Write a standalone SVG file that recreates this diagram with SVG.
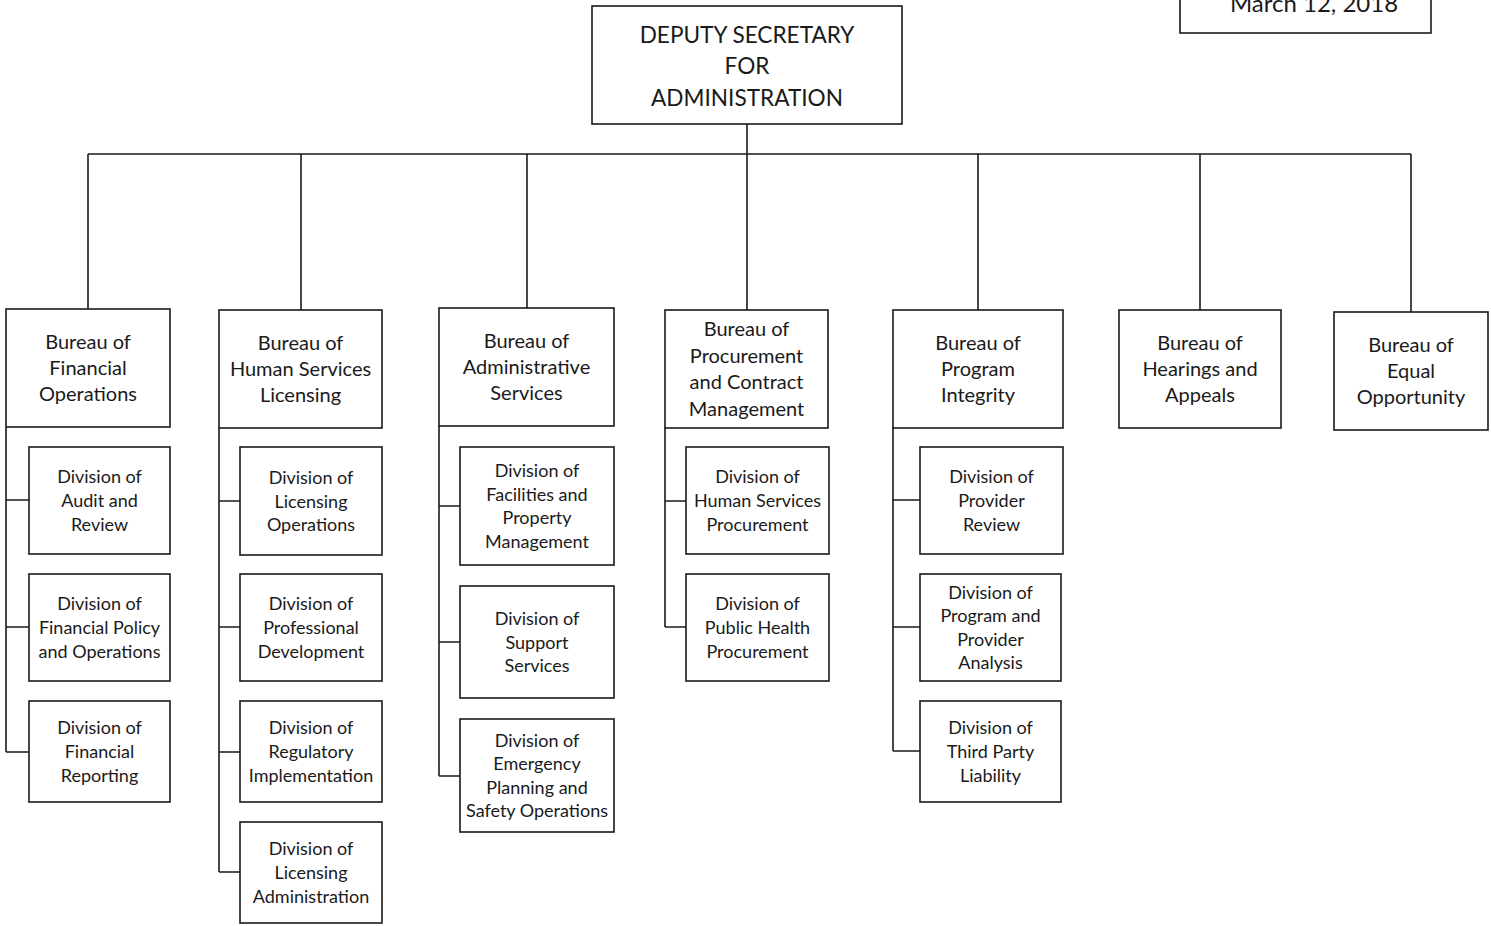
<svg xmlns="http://www.w3.org/2000/svg" width="1491" height="926" viewBox="0 0 1491 926">
<style>
rect{fill:#fff;stroke:#1a1a1a;stroke-width:1.6}
.c{fill:none;stroke:#1a1a1a;stroke-width:1.6}
text{font-family:Lato,"Open Sans","Liberation Sans",sans-serif;fill:#1a1a1a;text-anchor:middle}
.t{font-size:22.6px}
.dt{font-size:24px}
.b{font-size:20px}
.d{font-size:18px}
</style>
<rect x="0" y="0" width="1491" height="926" style="fill:#fff;stroke:none"/>
<g id="connectors">
<path class="c" d="M747 124V154M88 154H1411M88 154V309M301 154V310M527 154V308M747 154V310M978 154V310M1200 154V310M1411 154V312"/>
<path class="c" d="M6 427V752M6 500H29M6 627H29M6 752H29"/>
<path class="c" d="M219 428V872M219 501H240M219 627H240M219 752H240M219 872H240"/>
<path class="c" d="M439 426V776M439 506H460M439 642H460M439 776H460"/>
<path class="c" d="M665 428V627M665 501H686M665 627H686"/>
<path class="c" d="M893 428V751M893 500H920M893 627H920M893 751H920"/>
</g>
<g id="date"><rect x="1180" y="-10" width="251" height="43"/><text class="dt" x="1314" y="11.5">March 12, 2018</text></g>
<g id="deputy"><rect x="592" y="6" width="310" height="118"/><text class="t" x="747" y="42.5">DEPUTY SECRETARY</text><text class="t" x="747" y="74">FOR</text><text class="t" x="747" y="105.5">ADMINISTRATION</text></g>
<g id="b1"><rect x="6" y="309" width="164" height="118"/><text class="b" x="88" y="348.6">Bureau of</text><text class="b" x="88" y="375">Financial</text><text class="b" x="88" y="401.4">Operations</text></g>
<g id="b2"><rect x="219" y="310" width="163" height="118"/><text class="b" x="300.5" y="349.6">Bureau of</text><text class="b" x="300.5" y="376">Human Services</text><text class="b" x="300.5" y="402.4">Licensing</text></g>
<g id="b3"><rect x="439" y="308" width="175" height="118"/><text class="b" x="526.5" y="347.6">Bureau of</text><text class="b" x="526.5" y="374">Administrative</text><text class="b" x="526.5" y="400.4">Services</text></g>
<g id="b4"><rect x="665" y="310" width="163" height="118"/><text class="b" x="746.5" y="336.4">Bureau of</text><text class="b" x="746.5" y="362.8">Procurement</text><text class="b" x="746.5" y="389.2">and Contract</text><text class="b" x="746.5" y="415.6">Management</text></g>
<g id="b5"><rect x="893" y="310" width="170" height="118"/><text class="b" x="978" y="349.6">Bureau of</text><text class="b" x="978" y="376">Program</text><text class="b" x="978" y="402.4">Integrity</text></g>
<g id="b6"><rect x="1119" y="310" width="162" height="118"/><text class="b" x="1200" y="349.6">Bureau of</text><text class="b" x="1200" y="376">Hearings and</text><text class="b" x="1200" y="402.4">Appeals</text></g>
<g id="b7"><rect x="1334" y="312" width="154" height="118"/><text class="b" x="1411" y="351.6">Bureau of</text><text class="b" x="1411" y="378">Equal</text><text class="b" x="1411" y="404.4">Opportunity</text></g>
<g id="d11"><rect x="29" y="447" width="141" height="107"/><text class="d" x="99.5" y="483.4">Division of</text><text class="d" x="99.5" y="507">Audit and</text><text class="d" x="99.5" y="530.6">Review</text></g>
<g id="d12"><rect x="29" y="574" width="141" height="107"/><text class="d" x="99.5" y="610.4">Division of</text><text class="d" x="99.5" y="634">Financial Policy</text><text class="d" x="99.5" y="657.6">and Operations</text></g>
<g id="d13"><rect x="29" y="701" width="141" height="101"/><text class="d" x="99.5" y="734.4">Division of</text><text class="d" x="99.5" y="758">Financial</text><text class="d" x="99.5" y="781.6">Reporting</text></g>
<g id="d21"><rect x="240" y="447" width="142" height="108"/><text class="d" x="311" y="483.9">Division of</text><text class="d" x="311" y="507.5">Licensing</text><text class="d" x="311" y="531.1">Operations</text></g>
<g id="d22"><rect x="240" y="574" width="142" height="107"/><text class="d" x="311" y="610.4">Division of</text><text class="d" x="311" y="634">Professional</text><text class="d" x="311" y="657.6">Development</text></g>
<g id="d23"><rect x="240" y="701" width="142" height="101"/><text class="d" x="311" y="734.4">Division of</text><text class="d" x="311" y="758">Regulatory</text><text class="d" x="311" y="781.6">Implementation</text></g>
<g id="d24"><rect x="240" y="822" width="142" height="101"/><text class="d" x="311" y="855.4">Division of</text><text class="d" x="311" y="879">Licensing</text><text class="d" x="311" y="902.6">Administration</text></g>
<g id="d31"><rect x="460" y="447" width="154" height="118"/><text class="d" x="537" y="477.1">Division of</text><text class="d" x="537" y="500.7">Facilities and</text><text class="d" x="537" y="524.3">Property</text><text class="d" x="537" y="547.9">Management</text></g>
<g id="d32"><rect x="460" y="586" width="154" height="112"/><text class="d" x="537" y="624.9">Division of</text><text class="d" x="537" y="648.5">Support</text><text class="d" x="537" y="672.1">Services</text></g>
<g id="d33"><rect x="460" y="719" width="154" height="113"/><text class="d" x="537" y="746.6">Division of</text><text class="d" x="537" y="770.2">Emergency</text><text class="d" x="537" y="793.8">Planning and</text><text class="d" x="537" y="817.4">Safety Operations</text></g>
<g id="d41"><rect x="686" y="447" width="143" height="107"/><text class="d" x="757.5" y="483.4">Division of</text><text class="d" x="757.5" y="507">Human Services</text><text class="d" x="757.5" y="530.6">Procurement</text></g>
<g id="d42"><rect x="686" y="574" width="143" height="107"/><text class="d" x="757.5" y="610.4">Division of</text><text class="d" x="757.5" y="634">Public Health</text><text class="d" x="757.5" y="657.6">Procurement</text></g>
<g id="d51"><rect x="920" y="447" width="143" height="107"/><text class="d" x="991.5" y="483.4">Division of</text><text class="d" x="991.5" y="507">Provider</text><text class="d" x="991.5" y="530.6">Review</text></g>
<g id="d52"><rect x="920" y="574" width="141" height="107"/><text class="d" x="990.5" y="598.6">Division of</text><text class="d" x="990.5" y="622.2">Program and</text><text class="d" x="990.5" y="645.8">Provider</text><text class="d" x="990.5" y="669.4">Analysis</text></g>
<g id="d53"><rect x="920" y="701" width="141" height="101"/><text class="d" x="990.5" y="734.4">Division of</text><text class="d" x="990.5" y="758">Third Party</text><text class="d" x="990.5" y="781.6">Liability</text></g>
</svg>
